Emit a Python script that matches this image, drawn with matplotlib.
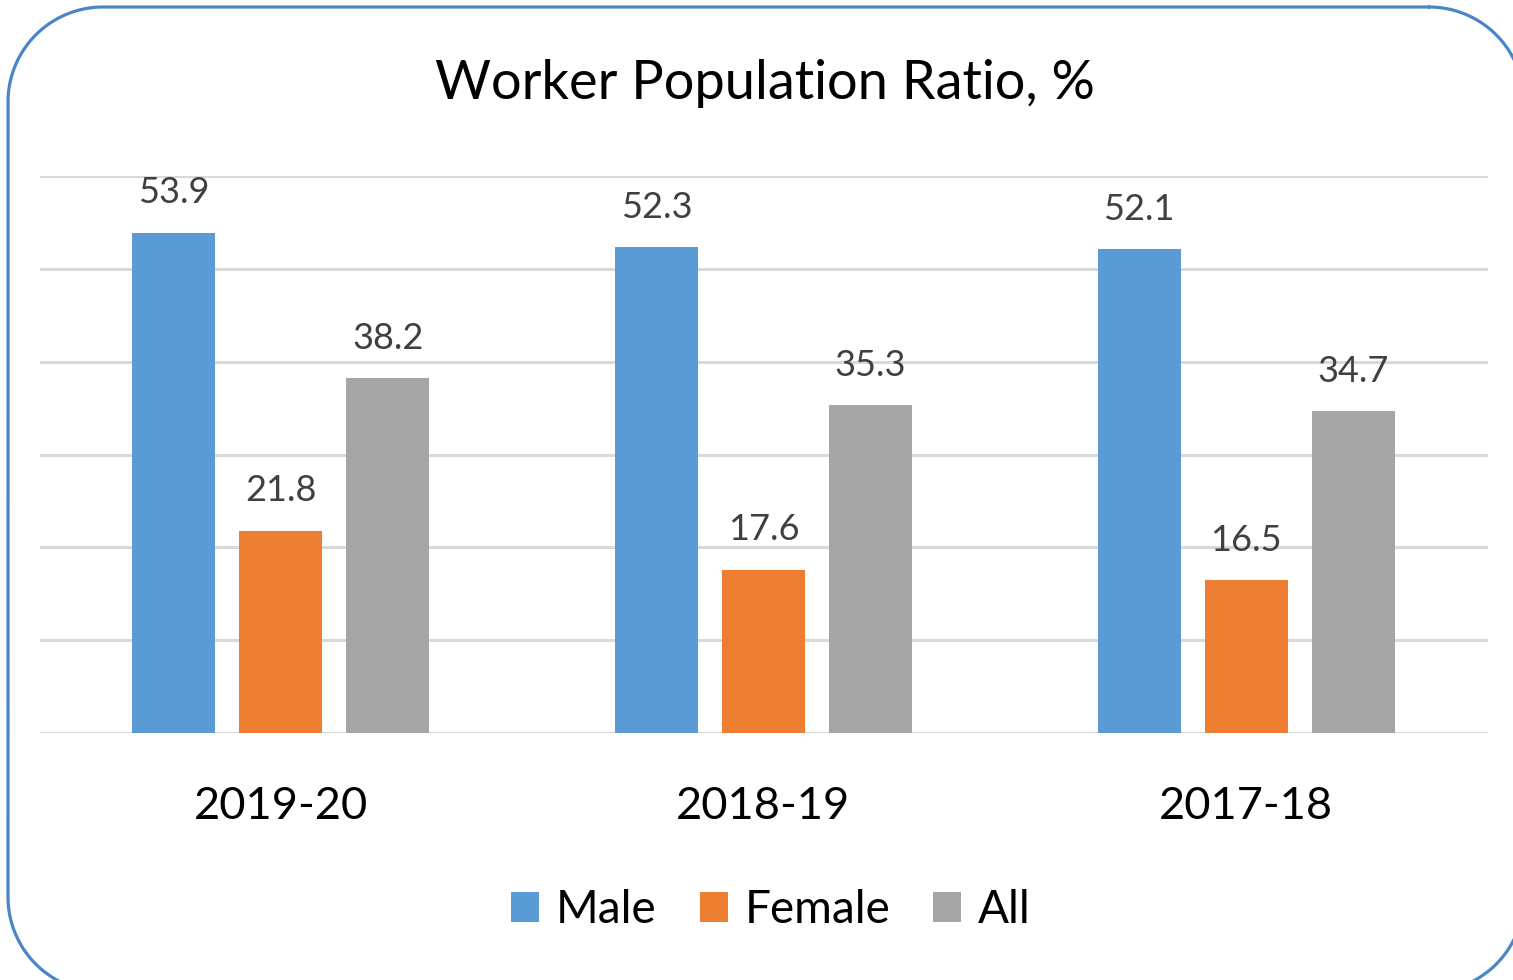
import matplotlib
matplotlib.use("Agg")
import matplotlib.pyplot as plt
import numpy as np

# data
years = ["2019-20", "2018-19", "2017-18"]
male = [53.9, 52.3, 52.1]
female = [21.8, 17.6, 16.5]
all_persons = [38.2, 35.3, 34.7]
series_names = ["Male", "Female", "All"]
colors = ["#5b9bd5", "#ed7d31", "#a5a5a5"]

plt.rcParams['font.family'] = ['Lato', 'DejaVu Sans']

W, H = 1513, 980
fig = plt.figure(figsize=(W / 100, H / 100), dpi=100)

# background axes in pixel units for the rounded blue frame
bg = fig.add_axes([0, 0, 1, 1], zorder=-1)
bg.set_xlim(0, W)
bg.set_ylim(H, 0)
bg.axis("off")
left, top, right, bottom, r = 8, 7, 1524, 992, 95
corners = [(right - r, top + r, -90, 0), (right - r, bottom - r, 0, 90),
           (left + r, bottom - r, 90, 180), (left + r, top + r, 180, 270)]
px, py = [], []
for cx, cy, a0, a1 in corners:
    t = np.radians(np.linspace(a0, a1, 40))
    px.extend(cx + r * np.cos(t))
    py.extend(cy + r * np.sin(t))
px.append(px[0])
py.append(py[0])
bg.plot(px, py, color="#4a86c5", linewidth=2.3, solid_capstyle="round")

ax = fig.add_axes([39.5 / W, (H - 733) / H, (1487.5 - 39.5) / W, (733 - 176) / H])
x = np.arange(len(years))
width = 0.172
step = 0.222
for i, (vals, name, c) in enumerate(zip([male, female, all_persons], series_names, colors)):
    pos = x + (i - 1) * step
    bars = ax.bar(pos, vals, width, color=c, label=name, zorder=3)
    for b, v in zip(bars, vals):
        ax.annotate(f"{v}", (b.get_x() + b.get_width() / 2, v),
                    xytext=(0, 21), textcoords="offset points",
                    ha="center", va="baseline", fontsize=26, color="#404040")

ax.set_xlim(-0.5, 2.5)
ax.set_ylim(0, 60)
ax.set_yticks(np.arange(0, 61, 10))
ax.set_yticklabels([])
ax.grid(axis="y", color="#d9d9d9", linewidth=2.2, zorder=0)
ax.set_axisbelow(True)
ax.patch.set_visible(False)
for s in ax.spines.values():
    s.set_visible(False)
ax.tick_params(length=0)
ax.tick_params(axis="y", left=False)
ax.set_xticks(x)
ax.set_xticklabels(years, fontsize=32.5, color="#000000")
ax.tick_params(axis="x", pad=38)

fig.text(765 / W, 1 - 84 / H, "Worker Population Ratio, %", ha="center", va="center",
         fontsize=39, color="#000000")

leg = fig.legend(loc="center", bbox_to_anchor=(771 / W, 1 - 910 / H), ncol=3,
                 frameon=False, fontsize=33, handlelength=0.61, handleheight=0.61,
                 handletextpad=0.37, columnspacing=0.94)

fig.savefig("out.png", dpi=100)
